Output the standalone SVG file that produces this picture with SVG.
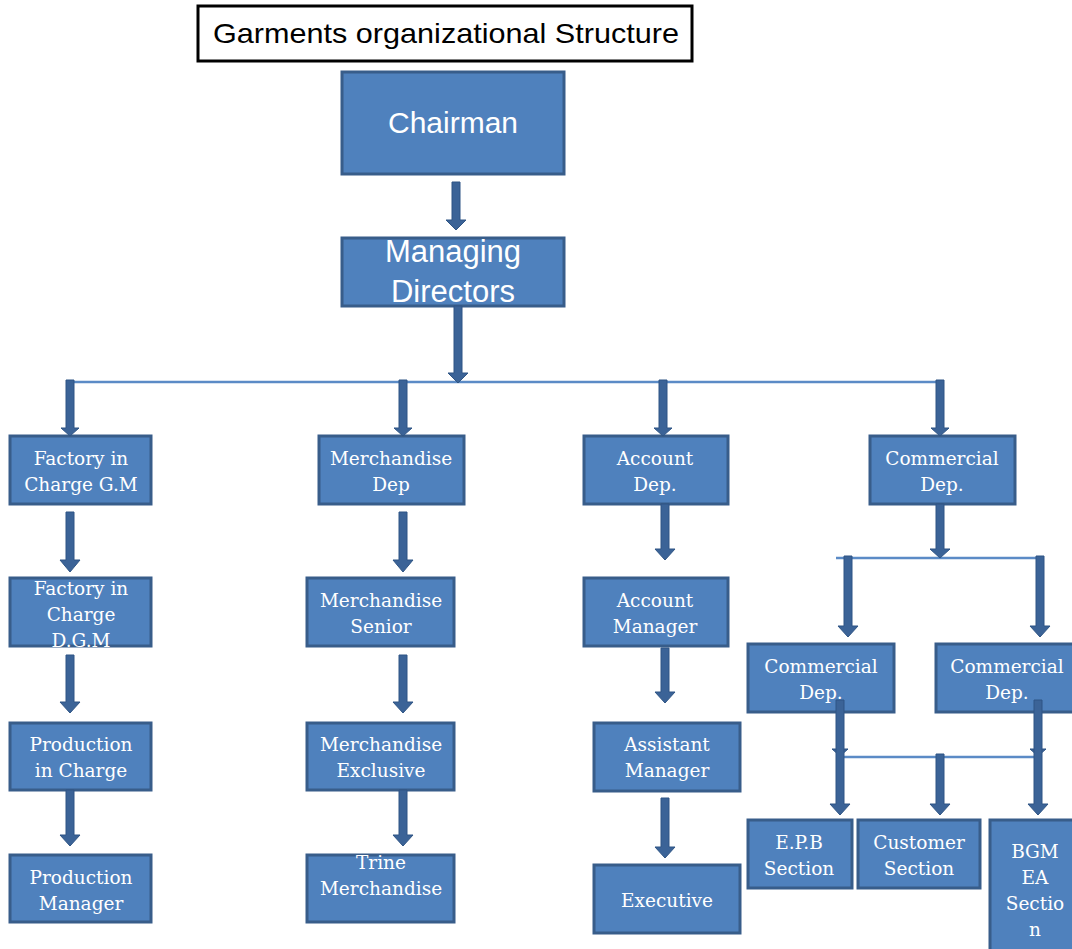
<svg xmlns="http://www.w3.org/2000/svg" width="1072" height="949" viewBox="0 0 1072 949">
<style>
.b{fill:#4F81BD;stroke:#385D8A;stroke-width:3}
.t{font-family:"DejaVu Serif","Liberation Serif",serif;font-size:18.5px;fill:#fff;text-anchor:middle}
.s{font-family:"Liberation Sans",Arial,sans-serif;fill:#fff;text-anchor:middle}
.a{fill:#3B6397;stroke:#2F5585;stroke-width:1}
.h{stroke:#5B8BC6;stroke-width:2.5;fill:none}
</style>
<rect width="1072" height="949" fill="#fff"/>
<g id="title">
<rect x="198" y="6" width="494" height="55" fill="#fff" stroke="#000" stroke-width="3"/>
<text x="446" y="43" font-family="Liberation Sans,Arial,sans-serif" font-size="28" text-anchor="middle" textLength="466" lengthAdjust="spacingAndGlyphs" fill="#000">Garments organizational Structure</text>
</g>
<g id="chairman"><rect class="b" x="342" y="72" width="222" height="102"/><text class="s" x="453" y="133" font-size="30">Chairman</text></g>
<g id="md"><rect class="b" x="342" y="238" width="222" height="68"/><text class="s" x="453" y="262" font-size="31">Managing</text><text class="s" x="453" y="302" font-size="31">Directors</text></g>
<g id="factory-gm"><rect class="b" x="10" y="436" width="141" height="68"/><text class="t" x="81" y="465">Factory in</text><text class="t" x="81" y="491">Charge G.M</text></g>
<g id="merch-dep"><rect class="b" x="319" y="436" width="145" height="68"/><text class="t" x="391" y="465">Merchandise</text><text class="t" x="391" y="491">Dep</text></g>
<g id="account-dep"><rect class="b" x="584" y="436" width="144" height="68"/><text class="t" x="655" y="465">Account</text><text class="t" x="655" y="491">Dep.</text></g>
<g id="commercial-dep"><rect class="b" x="870" y="436" width="145" height="68"/><text class="t" x="942" y="465">Commercial</text><text class="t" x="942" y="491">Dep.</text></g>
<g id="factory-dgm"><rect class="b" x="10" y="578" width="141" height="68"/><text class="t" x="81" y="595">Factory in</text><text class="t" x="81" y="621">Charge</text><text class="t" x="81" y="647">D.G.M</text></g>
<g id="merch-senior"><rect class="b" x="307" y="578" width="147" height="68"/><text class="t" x="381" y="607">Merchandise</text><text class="t" x="381" y="633">Senior</text></g>
<g id="account-manager"><rect class="b" x="584" y="578" width="144" height="68"/><text class="t" x="655" y="607">Account</text><text class="t" x="655" y="633">Manager</text></g>
<g id="commercial-l"><rect class="b" x="748" y="644" width="146" height="68"/><text class="t" x="821" y="673">Commercial</text><text class="t" x="821" y="699">Dep.</text></g>
<g id="commercial-r"><rect class="b" x="936" y="644" width="140" height="68"/><text class="t" x="1007" y="673">Commercial</text><text class="t" x="1007" y="699">Dep.</text></g>
<g id="prod-charge"><rect class="b" x="10" y="723" width="141" height="67"/><text class="t" x="81" y="751">Production</text><text class="t" x="81" y="777">in Charge</text></g>
<g id="merch-exclusive"><rect class="b" x="307" y="723" width="147" height="67"/><text class="t" x="381" y="751">Merchandise</text><text class="t" x="381" y="777">Exclusive</text></g>
<g id="assistant-manager"><rect class="b" x="594" y="723" width="146" height="68"/><text class="t" x="667" y="751">Assistant</text><text class="t" x="667" y="777">Manager</text></g>
<g id="prod-manager"><rect class="b" x="10" y="855" width="141" height="67"/><text class="t" x="81" y="884">Production</text><text class="t" x="81" y="910">Manager</text></g>
<g id="trine-merch"><rect class="b" x="307" y="855" width="147" height="67"/><text class="t" x="381" y="869">Trine</text><text class="t" x="381" y="895">Merchandise</text></g>
<g id="executive"><rect class="b" x="594" y="865" width="146" height="68"/><text class="t" x="667" y="907">Executive</text></g>
<g id="epb"><rect class="b" x="748" y="820" width="104" height="68"/><text class="t" x="799" y="849">E.P.B</text><text class="t" x="799" y="875">Section</text></g>
<g id="customer"><rect class="b" x="858" y="820" width="122" height="68"/><text class="t" x="919" y="849">Customer</text><text class="t" x="919" y="875">Section</text></g>
<g id="bgmea"><rect class="b" x="990" y="820" width="90" height="140"/><text class="t" x="1035" y="858">BGM</text><text class="t" x="1035" y="884">EA</text><text class="t" x="1035" y="910">Sectio</text><text class="t" x="1035" y="936">n</text></g>
<g id="connectors">
<line class="h" x1="70" y1="382" x2="944" y2="382"/>
<line class="h" x1="836" y1="558" x2="1044" y2="558"/>
<line class="h" x1="840" y1="757" x2="1040" y2="757"/>
<polygon class="a" points="452,182 460,182 460,220 466,220 456,230 446,220 452,220"/>
<polygon class="a" points="454,306 462,306 462,373 468,373 458,383 448,373 454,373"/>
<polygon class="a" points="66,380 74,380 74,428 79,428 70,436 61,428 66,428"/>
<polygon class="a" points="399,380 407,380 407,428 412,428 403,436 394,428 399,428"/>
<polygon class="a" points="659,380 667,380 667,428 672,428 663,436 654,428 659,428"/>
<polygon class="a" points="936,380 944,380 944,428 949,428 940,436 931,428 936,428"/>
<polygon class="a" points="66,512 74,512 74,560 80,560 70,572 60,560 66,560"/>
<polygon class="a" points="399,512 407,512 407,560 413,560 403,572 393,560 399,560"/>
<polygon class="a" points="661,504 669,504 669,549 675,549 665,560 655,549 661,549"/>
<polygon class="a" points="936,504 944,504 944,549 950,549 940,558 930,549 936,549"/>
<polygon class="a" points="844,556 852,556 852,626 858,626 848,637 838,626 844,626"/>
<polygon class="a" points="1036,556 1044,556 1044,626 1050,626 1040,637 1030,626 1036,626"/>
<polygon class="a" points="66,655 74,655 74,702 80,702 70,713 60,702 66,702"/>
<polygon class="a" points="399,655 407,655 407,702 413,702 403,713 393,702 399,702"/>
<polygon class="a" points="661,648 669,648 669,692 675,692 665,703 655,692 661,692"/>
<polygon class="a" points="66,790 74,790 74,835 80,835 70,846 60,835 66,835"/>
<polygon class="a" points="399,790 407,790 407,835 413,835 403,846 393,835 399,835"/>
<polygon class="a" points="661,798 669,798 669,847 675,847 665,858 655,847 661,847"/>
<polygon class="a" points="832,749 848,749 840,756"/>
<polygon class="a" points="1030,749 1046,749 1038,756"/>
<polygon class="a" points="836,700 844,700 844,804 850,804 840,815 830,804 836,804"/>
<polygon class="a" points="936,754 944,754 944,804 950,804 940,815 930,804 936,804"/>
<polygon class="a" points="1034,700 1042,700 1042,804 1048,804 1038,815 1028,804 1034,804"/>
</g>
</svg>
